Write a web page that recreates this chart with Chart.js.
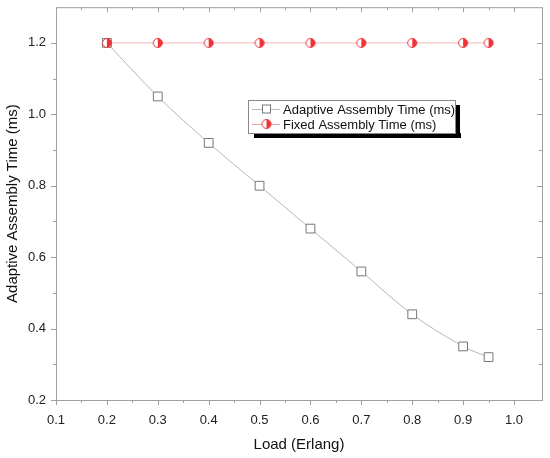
<!DOCTYPE html>
<html>
<head>
<meta charset="utf-8">
<script src="https://cdn.jsdelivr.net/npm/chart.js@4.4.1/dist/chart.umd.min.js"></script>
<style>
  html, body { margin: 0; padding: 0; background: #fff; }
  #wrap { width: 550px; height: 458px; }
</style>
</head>
<body>
<div id="wrap"><canvas id="chart" width="550" height="458"></canvas></div>
<script>
// data
const loads = [0.2, 0.3, 0.4, 0.5, 0.6, 0.7, 0.8, 0.9, 0.95];
const adaptiveTime = [1.2, 1.05, 0.92, 0.80, 0.68, 0.56, 0.44, 0.35, 0.32];
const fixedTime = [1.2, 1.2, 1.2, 1.2, 1.2, 1.2, 1.2, 1.2, 1.2];
const xTicks = [0.1, 0.2, 0.3, 0.4, 0.5, 0.6, 0.7, 0.8, 0.9, 1.0];
const yTicks = [0.2, 0.4, 0.6, 0.8, 1.0, 1.2];
const xMinor = [0.15, 0.25, 0.35, 0.45, 0.55, 0.65, 0.75, 0.85, 0.95];
const yMinor = [0.3, 0.5, 0.7, 0.9, 1.1];
const labels = ['Adaptive Assembly Time (ms)', 'Fixed Assembly Time (ms)'];

const FONT = '"Liberation Sans", Arial, sans-serif';
const AXIS = '#a0a0a0';
const RED = '#ee3338';

// half filled circle marker
function halfCircle(r) {
  const c = document.createElement('canvas');
  const s = r * 2 + 2;
  c.width = s; c.height = s;
  const g = c.getContext('2d');
  const m = s / 2;
  g.beginPath(); g.arc(m, m, r - 0.5, 0, Math.PI * 2); g.fillStyle = '#fff'; g.fill();
  g.beginPath(); g.moveTo(m, m - r); g.arc(m, m, r - 0.5, -Math.PI / 2, Math.PI / 2); g.closePath();
  g.fillStyle = RED; g.fill();
  g.beginPath(); g.arc(m, m, r - 0.5, 0, Math.PI * 2);
  g.strokeStyle = RED; g.lineWidth = 1; g.stroke();
  return c;
}
const circleImg = halfCircle(5);

// ticks on all four sides, frame box
const frame = {
  id: 'frame',
  afterDraw(chart) {
    const ctx = chart.ctx, a = chart.chartArea;
    const xs = chart.scales.x, ys = chart.scales.y;
    ctx.save();
    ctx.strokeStyle = AXIS; ctx.lineWidth = 1;
    ctx.strokeRect(a.left + 0.5, a.top + 0.5, a.right - a.left, a.bottom - a.top);
    ctx.beginPath();
    const tx = (v, len) => {
      const p = Math.round(xs.getPixelForValue(v)) + 0.5;
      ctx.moveTo(p, a.bottom); ctx.lineTo(p, a.bottom + len);
      ctx.moveTo(p, a.top); ctx.lineTo(p, a.top + len);
    };
    const ty = (v, len) => {
      const p = Math.round(ys.getPixelForValue(v)) + 0.5;
      ctx.moveTo(a.left, p); ctx.lineTo(a.left - len, p);
      ctx.moveTo(a.right, p); ctx.lineTo(a.right - len, p);
    };
    xTicks.forEach(v => tx(v, 5));
    xMinor.forEach(v => tx(v, 3));
    yTicks.forEach(v => ty(v, 5));
    yMinor.forEach(v => ty(v, 3));
    ctx.stroke();
    ctx.restore();
  }
};

// legend box with shadow inside the plot
const boxLegend = {
  id: 'boxLegend',
  afterDraw(chart) {
    const ctx = chart.ctx;
    const x = 248, y = 100, w = 207, h = 33;
    ctx.save();
    ctx.fillStyle = '#000';
    ctx.fillRect(x + 6, y + h, w, 5);
    ctx.fillRect(x + w, y + 5, 5, h);
    ctx.fillStyle = '#fff';
    ctx.fillRect(x, y, w, h);
    ctx.strokeStyle = '#888'; ctx.lineWidth = 1;
    ctx.strokeRect(x + 0.5, y + 0.5, w, h);
    ctx.font = '13px ' + FONT;
    ctx.textBaseline = 'middle';
    const rows = [y + 9, y + 24];
    // adaptive row
    ctx.strokeStyle = '#bbb';
    ctx.beginPath(); ctx.moveTo(x + 4, rows[0] + 0.5); ctx.lineTo(x + 32, rows[0] + 0.5); ctx.stroke();
    ctx.fillStyle = '#fff';
    ctx.fillRect(x + 14.5, rows[0] - 4, 8, 8);
    ctx.strokeStyle = '#777';
    ctx.strokeRect(x + 14.5, rows[0] - 4, 8, 8);
    // fixed row
    ctx.strokeStyle = '#f7a0a2';
    ctx.beginPath(); ctx.moveTo(x + 4, rows[1] + 0.5); ctx.lineTo(x + 32, rows[1] + 0.5); ctx.stroke();
    ctx.drawImage(circleImg, x + 18.5 - circleImg.width / 2, rows[1] - circleImg.height / 2);
    ctx.fillStyle = '#111';
    ctx.fillText(labels[0], x + 35, rows[0] + 1);
    ctx.fillText(labels[1], x + 35, rows[1] + 1);
    ctx.restore();
  }
};

new Chart(document.getElementById('chart'), {
  type: 'line',
  data: {
    datasets: [
      {
        label: labels[0],
        data: loads.map((v, i) => ({ x: v, y: adaptiveTime[i] })),
        borderColor: '#b5b5b5',
        borderWidth: 1,
        tension: 0.35,
        pointStyle: 'rect',
        pointRadius: 6.2,
        pointBorderColor: '#777',
        pointBackgroundColor: '#fff',
        pointBorderWidth: 1,
        order: 2
      },
      {
        label: labels[1],
        data: loads.map((v, i) => ({ x: v, y: fixedTime[i] })),
        borderColor: '#f9b4b5',
        borderWidth: 1,
        pointStyle: circleImg,
        order: 1
      }
    ]
  },
  options: {
    responsive: false,
    animation: false,
    layout: { padding: { top: 7, right: 8, left: 0, bottom: 0 } },
    plugins: { legend: { display: false }, tooltip: { enabled: false } },
    scales: {
      x: {
        type: 'linear',
        min: 0.1, max: 1.055,
        afterBuildTicks: s => { s.ticks = xTicks.map(v => ({ value: v })); },
        afterFit: s => { s.height = 58; s.paddingLeft = 0; s.paddingRight = 0; },
        grid: { display: false, drawTicks: false },
        border: { display: false },
        ticks: {
          padding: 13,
          color: '#222',
          font: { family: FONT, size: 13 },
          callback: v => v.toFixed(1)
        },
        title: {
          display: true, text: 'Load (Erlang)', color: '#111',
          font: { family: FONT, size: 15 }, padding: { top: 6 }
        }
      },
      y: {
        type: 'linear',
        min: 0.2, max: 1.3,
        afterBuildTicks: s => { s.ticks = yTicks.map(v => ({ value: v })); },
        afterFit: s => { s.width = 56; s.paddingTop = 0; s.paddingBottom = 0; },
        grid: { display: false, drawTicks: false },
        border: { display: false },
        ticks: {
          padding: 10,
          color: '#222',
          font: { family: FONT, size: 13 },
          callback: v => v.toFixed(1)
        },
        title: {
          display: true, text: 'Adaptive Assembly Time (ms)', color: '#111',
          font: { family: FONT, size: 15 }, padding: { bottom: 6 }
        }
      }
    }
  },
  plugins: [frame, boxLegend]
});
</script>
</body>
</html>
